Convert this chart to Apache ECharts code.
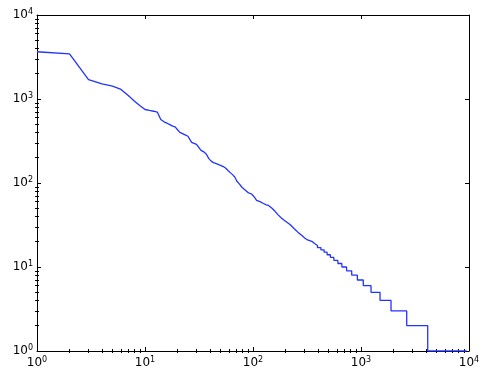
<!DOCTYPE html>
<html>
<head>
<meta charset="utf-8">
<script src="https://cdn.jsdelivr.net/npm/echarts@6/dist/echarts.min.js"></script>
<style>
  html, body { margin: 0; padding: 0; background: #fff; }
  #chart { width: 483px; height: 370px; }
</style>
</head>
<body>
<div id="chart"></div>
<script>
  // rank / count pairs (log-log)
  const ranks = [
    1, 2, 3, 4, 5, 6, 7, 8, 9, 10, 11, 12, 13, 14, 15, 16, 17, 18, 19, 20,
    21, 22, 23, 24, 25, 26, 27, 28, 30, 31, 33, 35, 37, 39, 41, 43, 47, 50, 53, 56,
    59, 62, 65, 68, 71, 75, 79, 85, 90, 97, 103, 108, 116, 125, 133, 139, 150, 160, 170, 184,
    200, 220, 245, 260, 280, 303, 320,
    321, 355, 356, 372, 373, 395, 396, 425, 426, 455, 456, 485, 486, 520, 521, 560,
    561, 610, 611, 665, 666, 735, 736, 820, 821, 925, 926, 1050, 1051, 1238, 1239, 1500,
    1501, 1896, 1897, 2650, 2651, 4148, 4149, 9520
  ];
  const counts = [
    3650, 3450, 1700, 1510, 1420, 1300, 1100, 940, 830, 750, 730, 715, 700, 570, 535, 515, 495, 475, 465, 430,
    400, 390, 380, 370, 360, 330, 305, 295, 288, 275, 245, 235, 220, 195, 182, 175, 168, 162, 157, 150,
    140, 132, 125, 117, 105, 97, 89, 82, 77, 74, 68, 62, 60, 57, 55, 54, 50, 46, 42, 38,
    35, 32, 28, 26, 24, 22, 21,
    20, 20, 19, 19, 18, 18, 17, 17, 16, 16, 15, 15, 14, 14, 13, 13,
    12, 12, 11, 11, 10, 10, 9, 9, 8, 8, 7, 7, 6, 6, 5, 5,
    4, 4, 3, 3, 2, 2, 1, 1
  ];
  const minorFactors = [2, 3, 4, 5, 6, 7, 8, 9];
  const decades = [0, 1, 2, 3];

  let minorTicks = [];
  decades.forEach(d => minorFactors.forEach(f => minorTicks.push(d + Math.log10(f))));

  const font = 'DejaVu Sans';
  const labelFmt = v => '10{sup|' + Math.round(Math.log10(v)) + '}';
  const labelRich = { sup: { fontSize: 8, lineHeight: 8, verticalAlign: 'top', fontFamily: font, color: '#000' } };

  function majorAxis(pos, withLabels) {
    return {
      type: 'log', logBase: 10, min: 1, max: 10000, position: pos,
      axisLine: { show: true, onZero: false, lineStyle: { color: '#000', width: 1 } },
      axisTick: { show: true, inside: true, length: 4, lineStyle: { color: '#000' } },
      axisLabel: {
        show: withLabels, color: '#000', fontFamily: font, fontSize: 12, lineHeight: 14,
        margin: pos === 'bottom' ? 5 : 4, formatter: labelFmt, rich: labelRich
      },
      splitLine: { show: false },
      minorTick: { show: false }
    };
  }
  function minorAxis(pos) {
    return {
      type: 'value', min: 0, max: 4, position: pos,
      axisLine: { show: false },
      axisTick: { show: true, inside: true, length: 2, customValues: minorTicks, lineStyle: { color: '#000' } },
      axisLabel: { show: false },
      splitLine: { show: false }
    };
  }

  const chart = echarts.init(document.getElementById('chart'));
  chart.setOption({
    animation: false,
    backgroundColor: '#fff',
    grid: { left: 37, right: 14, top: 15, bottom: 17, containLabel: false },
    xAxis: [majorAxis('bottom', true), majorAxis('top', false), minorAxis('bottom'), minorAxis('top')],
    yAxis: [majorAxis('left', true), majorAxis('right', false), minorAxis('left'), minorAxis('right')],
    series: [{
      type: 'line',
      xAxisIndex: 0,
      yAxisIndex: 0,
      showSymbol: false,
      lineStyle: { color: '#2233ff', width: 1.3 },
      data: ranks.map((r, i) => [r, counts[i]])
    }]
  });
</script>
</body>
</html>
